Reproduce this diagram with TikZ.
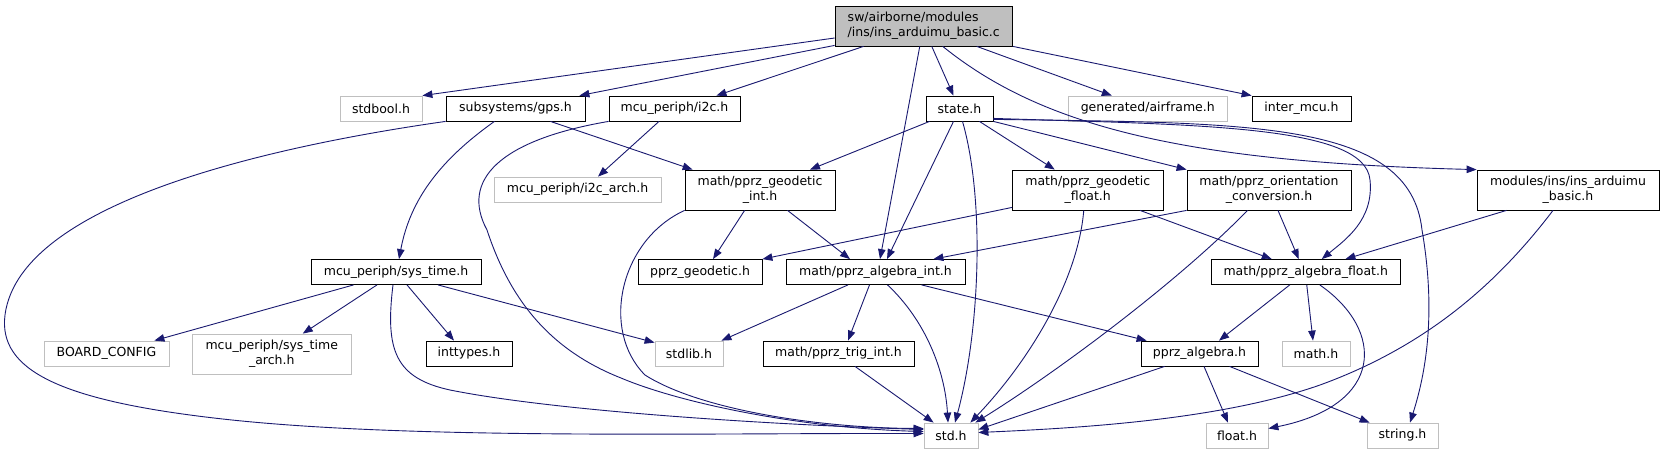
\documentclass[tikz,border=0pt]{standalone}
\usepackage{fontspec}
\setmainfont{DejaVu Sans}
\usetikzlibrary{arrows.meta}
\definecolor{edgec}{HTML}{191970}
\definecolor{grayb}{HTML}{BFBFBF}
\begin{document}
\begin{tikzpicture}[x=1pt,y=-1pt,
  nb/.style={draw=black, line width=0.8pt, inner sep=0pt, font=\fontsize{12.5}{15}\selectfont, align=center, minimum height=25pt},
  gb/.style={nb, draw=grayb},
  e/.style={draw=edgec, line width=0.9pt, -{Triangle[length=10pt,width=7.5pt]}}]
\useasboundingbox[fill=white] (0,0) rectangle (1664,455);
% nodes
\node[nb, fill=grayb, align=left, minimum width=177.5pt, minimum height=40pt] (main) at (923.75,26) {sw/airborne/modules\\/ins/ins\_arduimu\_basic.c};
\node[gb, minimum width=82pt] (stdbool) at (381,108.5) {stdbool.h};
\node[nb, minimum width=139pt] (gps) at (515.5,108.5) {subsystems/gps.h};
\node[nb, minimum width=131pt] (i2c) at (674.5,108.5) {mcu\_periph/i2c.h};
\node[nb, minimum width=67pt] (state) at (959.5,108.5) {state.h};
\node[gb, minimum width=158.4pt] (airframe) at (1147.8,108.5) {generated/airframe.h};
\node[nb, minimum width=99pt] (intermcu) at (1301.5,108.5) {inter\_mcu.h};
\node[nb, minimum width=150pt, minimum height=40pt] (geoint) at (760,190) {math/pprz\_geodetic\\\_int.h};
\node[gb, minimum width=167pt] (i2carch) at (577.5,189.5) {mcu\_periph/i2c\_arch.h};
\node[nb, minimum width=150.5pt, minimum height=40pt] (geofloat) at (1087.75,190) {math/pprz\_geodetic\\\_float.h};
\node[nb, minimum width=164pt, minimum height=40pt] (orient) at (1269,190) {math/pprz\_orientation\\\_conversion.h};
\node[nb, minimum width=182pt, minimum height=40pt] (insh) at (1568,190) {modules/ins/ins\_arduimu\\\_basic.h};
\node[nb, minimum width=170pt] (systime) at (396,272) {mcu\_periph/sys\_time.h};
\node[nb, minimum width=124pt] (pgeo) at (700,272) {pprz\_geodetic.h};
\node[nb, minimum width=179pt] (algint) at (875.5,272) {math/pprz\_algebra\_int.h};
\node[nb, minimum width=188.5pt] (algfloat) at (1305.75,272) {math/pprz\_algebra\_float.h};
\node[gb, minimum width=125pt] (board) at (106.5,353.5) {BOARD\_CONFIG};
\node[gb, minimum width=158.5pt, minimum height=40pt] (starch) at (271.75,354) {mcu\_periph/sys\_time\\\_arch.h};
\node[nb, minimum width=86pt] (inttypes) at (469,353.5) {inttypes.h};
\node[gb, minimum width=68pt] (stdlib) at (689,353.5) {stdlib.h};
\node[nb, minimum width=151pt] (trig) at (838.5,353.5) {math/pprz\_trig\_int.h};
\node[nb, minimum width=117pt] (palg) at (1199.5,353.5) {pprz\_algebra.h};
\node[gb, minimum width=68pt] (mathh) at (1316,353.5) {math.h};
\node[gb, minimum width=54pt] (std) at (951,435.5) {std.h};
\node[gb, minimum width=62pt] (floath) at (1237,435.5) {float.h};
\node[gb, minimum width=71pt] (string) at (1402.5,435.5) {string.h};
% edges from main
\draw[e] ([yshift=-12pt]main.west) -- (stdbool.north east);
\draw[e] ([yshift=1pt]main.south west) -- ([xshift=-6pt]gps.north east);
\draw[e] ([xshift=29pt]main.south west) -- ([xshift=-24pt]i2c.north east);
\draw[e] ([xshift=8pt]main.south) -- ([xshift=-6pt]state.north);
\draw[e] ([xshift=53pt]main.south) -- ([xshift=-36pt]airframe.north);
\draw[e] (main.south east) -- (intermcu.north west);
\draw[e] ([xshift=-4pt]main.south) -- ([xshift=4.5pt]algint.north);
\draw[e] ([xshift=19pt]main.south) .. controls (1040,125) and (1180,162) .. (insh.north west);
% gps
\draw[e] (gps.south west) .. controls (280,145) and (20,200) .. (5,315) .. controls (-2,370) and (60,400) .. (214,418) .. controls (400,440) and (700,433) .. ([yshift=2pt]std.west);
\draw[e] ([xshift=-21pt]gps.south) .. controls (440,160) and (410,200) .. ([xshift=3pt]systime.north);
\draw[e] ([xshift=-35pt]gps.south east) -- ([xshift=8pt]geoint.north west);
% i2c
\draw[e] (i2c.south west) .. controls (500,140) and (460,180) .. (487,230) .. controls (510,300) and (550,350) .. (621,378) .. controls (680,403) and (800,428) .. ([yshift=4pt]std.west);
\draw[e] ([xshift=-15.5pt]i2c.south) -- ([xshift=20.5pt]i2carch.north);
% state
\draw[e] ([xshift=4pt]state.south west) -- ([xshift=50pt]geoint.north);
\draw[e] ([xshift=-6pt]state.south) -- ([xshift=11.5pt]algint.north);
\draw[e] ([xshift=3pt]state.south) .. controls (985,200) and (980,330) .. ([xshift=4pt]std.north);
\draw[e] ([xshift=-14pt]state.south east) -- ([xshift=-33pt]geofloat.north);
\draw[e] (state.south east) -- (orient.north west);
\draw[e] ([yshift=3pt]state.south east) .. controls (1200,125) and (1365,125) .. (1370,180) .. controls (1374,220) and (1345,240) .. ([xshift=16pt]algfloat.north);
\draw[e] ([yshift=2pt]state.south east) .. controls (1250,123) and (1410,120) .. (1422,230) .. controls (1434,300) and (1430,360) .. ([xshift=7.5pt]string.north);
% geodetic int
\draw[e] (geoint.south west) .. controls (620,240) and (600,330) .. (645,375) .. controls (700,410) and (820,428) .. ([yshift=7pt]std.west);
\draw[e] ([xshift=-15.4pt]geoint.south) -- ([xshift=13pt]pgeo.north);
\draw[e] ([xshift=27.5pt]geoint.south) -- ([xshift=-25.5pt]algint.north);
% geodetic float
\draw[e] ([yshift=3pt]geofloat.south west) -- (pgeo.north east);
\draw[e] ([xshift=-4pt]geofloat.south) .. controls (1078,280) and (1030,360) .. ([xshift=-8pt]std.north east);
\draw[e] ([xshift=-23.4pt]geofloat.south east) -- ([xshift=-34pt]algfloat.north);
% orientation
\draw[e] (orient.south west) -- ([xshift=-32pt]algint.north east);
\draw[e] ([xshift=-21.5pt]orient.south) .. controls (1180,280) and (1060,370) .. ([xshift=-3pt]std.north east);
\draw[e] ([xshift=9pt]orient.south) -- ([xshift=-7pt]algfloat.north);
% ins basic h
\draw[e] ([xshift=-61.5pt]insh.south) -- ([xshift=-55pt]algfloat.north east);
\draw[e] ([xshift=-15pt]insh.south) .. controls (1500,280) and (1430,345) .. (1320,385) .. controls (1220,420) and (1080,428) .. ([yshift=3pt]std.east);
% algebra int
\draw[e] ([xshift=-27.5pt]algint.south) -- ([xshift=-2pt]stdlib.north east);
\draw[e] ([xshift=-6pt]algint.south) -- ([xshift=9.5pt]trig.north);
\draw[e] ([xshift=12pt]algint.south) .. controls (925,320) and (945,370) .. ([xshift=-3pt]std.north);
\draw[e] ([xshift=46pt]algint.south) -- ([xshift=6pt]palg.north west);
% trig
\draw[e] ([xshift=16.5pt]trig.south) -- ([xshift=10pt]std.north west);
% sys time
\draw[e] ([xshift=-42.4pt]systime.south) -- ([xshift=-15pt]board.north east);
\draw[e] ([xshift=-19pt]systime.south) -- ([xshift=31pt]starch.north);
\draw[e] ([xshift=11pt]systime.south) -- ([xshift=-15pt]inttypes.north);
\draw[e] ([xshift=-43.5pt]systime.south east) -- ([yshift=-2pt]stdlib.north west);
\draw[e] ([xshift=-3pt]systime.south) .. controls (385,350) and (395,378) .. (450,390) .. controls (560,412) and (780,425) .. ([yshift=6pt]std.west);
% algebra float
\draw[e] ([xshift=-16pt]algfloat.south) -- ([xshift=19.5pt]palg.north);
\draw[e] ([xshift=1pt]algfloat.south) -- ([xshift=-3pt]mathh.north);
\draw[e] ([xshift=14pt]algfloat.south) .. controls (1385,330) and (1385,405) .. ([yshift=7pt]floath.east);
% pprz algebra
\draw[e] ([xshift=24pt]palg.south west) -- ([yshift=6pt]std.east);
\draw[e] ([xshift=4.5pt]palg.south) -- ([xshift=-9pt]floath.north);
\draw[e] ([xshift=30pt]palg.south) -- ([xshift=3pt]string.north west);
\end{tikzpicture}
\end{document}
